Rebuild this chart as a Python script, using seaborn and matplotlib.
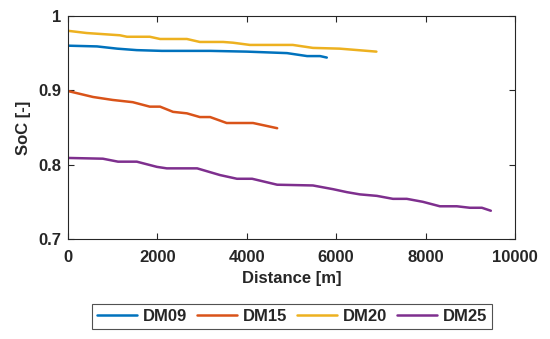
import matplotlib
matplotlib.use("Agg")
import matplotlib.pyplot as plt
import seaborn as sns
import pandas as pd

# ---- data ----
dm09_dist = [0, 650, 1100, 1540, 2100, 3180, 4000, 4900, 5350, 5640, 5790]
dm09_soc = [0.960, 0.959, 0.956, 0.954, 0.953, 0.953, 0.952, 0.950, 0.946, 0.946, 0.944]

dm15_dist = [0, 560, 1000, 1450, 1830, 2060, 2350, 2660, 2950, 3180, 3550, 4140, 4450, 4680]
dm15_soc = [0.899, 0.891, 0.887, 0.884, 0.878, 0.878, 0.871, 0.869, 0.864, 0.864, 0.856, 0.856, 0.852, 0.849]

dm20_dist = [0, 420, 1160, 1320, 1830, 2060, 2660, 2950, 3470, 3690, 4070, 5030, 5480, 6080, 6900]
dm20_soc = [0.980, 0.977, 0.974, 0.972, 0.972, 0.969, 0.969, 0.965, 0.965, 0.964, 0.961, 0.961, 0.957, 0.956, 0.952]

dm25_dist = [0, 780, 1120, 1540, 1990, 2210, 2890, 3400, 3780, 4120, 4680, 5480, 5930, 6240,
             6530, 6910, 7270, 7580, 7940, 8320, 8700, 8990, 9260, 9460]
dm25_soc = [0.809, 0.808, 0.804, 0.804, 0.797, 0.795, 0.795, 0.786, 0.781, 0.781, 0.773, 0.772, 0.767, 0.763,
            0.760, 0.758, 0.754, 0.754, 0.750, 0.744, 0.744, 0.742, 0.742, 0.738]

series_names = ["DM09", "DM15", "DM20", "DM25"]
series_colors = ["#0072BD", "#D95319", "#EDB120", "#7E2F8E"]
x_ticks = [0, 2000, 4000, 6000, 8000, 10000]
x_tick_labels = ["0", "2000", "4000", "6000", "8000", "10000"]
y_ticks = [0.7, 0.8, 0.9, 1.0]
y_tick_labels = ["0.7", "0.8", "0.9", "1"]

frames = []
for name, d, s in zip(series_names,
                      [dm09_dist, dm15_dist, dm20_dist, dm25_dist],
                      [dm09_soc, dm15_soc, dm20_soc, dm25_soc]):
    frames.append(pd.DataFrame({"Distance": d, "SoC": s, "Series": name}))
df = pd.concat(frames, ignore_index=True)

sns.set_style("white")
plt.rcParams["font.family"] = ["Liberation Sans", "DejaVu Sans"]

FS = 12
fig = plt.figure(figsize=(5.5, 3.39), dpi=100)
ax = fig.add_axes([0.1236, 0.295, 0.8127, 0.658])

sns.lineplot(data=df, x="Distance", y="SoC", hue="Series", hue_order=series_names,
             palette=series_colors, linewidth=1.8, ax=ax, estimator=None, sort=False)

ax.set_xlim(0, 10000)
ax.set_ylim(0.7, 1.0)
ax.set_xticks(x_ticks)
ax.set_xticklabels(x_tick_labels, fontsize=FS, fontweight="bold", color="#262626")
ax.set_yticks(y_ticks)
ax.set_yticklabels(y_tick_labels, fontsize=FS, fontweight="bold", color="#262626")
ax.set_xlabel("Distance [m]", fontsize=FS, fontweight="bold", color="#262626", labelpad=4)
ax.set_ylabel("SoC [-]", fontsize=FS, fontweight="bold", color="#262626", labelpad=5)
ax.tick_params(axis="x", pad=8)
ax.tick_params(axis="y", pad=5)
ax.tick_params(direction="in", length=4, width=0.8, color="#262626",
               top=True, right=True, bottom=True, left=True)
for sp in ax.spines.values():
    sp.set_visible(True)
    sp.set_color("#262626")
    sp.set_linewidth(0.8)

handles, labels = ax.get_legend_handles_labels()
ax.legend_.remove()
leg = fig.legend(handles, labels, loc="center", bbox_to_anchor=(0.531, 0.066), ncol=4,
                 frameon=True, fancybox=False, edgecolor="#262626",
                 prop={"weight": "bold", "size": FS}, handlelength=2.4,
                 columnspacing=0.6, handletextpad=0.35, borderpad=0.3, borderaxespad=0)
leg.get_frame().set_linewidth(0.8)
for l in leg.get_lines():
    l.set_linewidth(1.8)

fig.savefig("out.png", dpi=100)
